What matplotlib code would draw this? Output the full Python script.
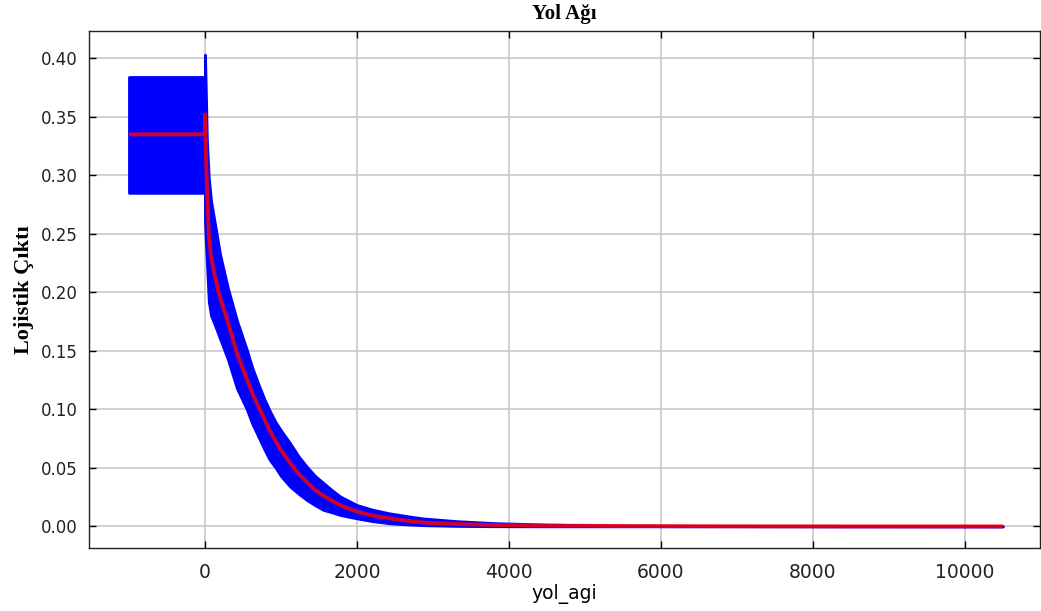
import matplotlib
matplotlib.use("Agg")
import matplotlib.pyplot as plt
import numpy as np

# Data (MaxEnt response curve)
yol_agi = [-1000, -1, 0, 10, 25, 50, 80, 130, 200, 300, 420, 550, 620, 700,
           780, 850, 930, 1000, 1120, 1230, 1340, 1450, 1560, 1670, 1780,
           2000, 2200, 2430, 2650, 2870, 3300, 3800, 4500, 5500, 7000, 8500,
           10500]
mean_out = [0.335, 0.335, 0.352, 0.325, 0.290, 0.250, 0.230, 0.214, 0.195,
            0.175, 0.148, 0.126, 0.114, 0.103, 0.092, 0.082, 0.073, 0.065,
            0.054, 0.045, 0.038, 0.031, 0.026, 0.022, 0.018, 0.0125, 0.0093,
            0.0068, 0.0048, 0.0033, 0.0020, 0.0012, 0.0006, 0.0003, 0.0001,
            0.0, 0.0]
upper_out = [0.384, 0.384, 0.403, 0.376, 0.330, 0.298, 0.278, 0.259, 0.232,
             0.204, 0.176, 0.151, 0.136, 0.122, 0.109, 0.099, 0.089, 0.082,
             0.071, 0.060, 0.051, 0.043, 0.037, 0.031, 0.0255, 0.0182,
             0.0143, 0.0111, 0.0088, 0.0068, 0.0045, 0.0028, 0.0015, 0.0007,
             0.0002, 0.0001, 0.0]
lower_out = [0.285, 0.285, 0.260, 0.245, 0.225, 0.192, 0.180, 0.172, 0.160,
             0.143, 0.118, 0.100, 0.088, 0.077, 0.066, 0.057, 0.050, 0.043,
             0.034, 0.028, 0.0225, 0.018, 0.014, 0.012, 0.0097, 0.0068,
             0.0045, 0.0026, 0.0017, 0.0010, 0.0004, 0.0001, 0.0, 0.0, 0.0,
             0.0, 0.0]
x_ticks = [0, 2000, 4000, 6000, 8000, 10000]
y_ticks = [0.00, 0.05, 0.10, 0.15, 0.20, 0.25, 0.30, 0.35, 0.40]

fig = plt.figure(figsize=(10.41, 6.11), dpi=100)
ax = fig.add_axes([89/1041, 1-548/611, (1040-89)/1041, (548-31)/611])

ax.fill_between(yol_agi, lower_out, upper_out, color="#0000ff",
                edgecolor="#0000ff", linewidth=2.0, zorder=2)
ax.plot(yol_agi, mean_out, color="#ff0000", linewidth=2.8, alpha=0.82,
        zorder=3, solid_capstyle="butt")

ax.set_xlim(-1526, 10987)
ax.set_ylim(-0.0185, 0.4233)
ax.set_xticks(x_ticks)
ax.set_yticks(y_ticks)
ax.set_yticklabels([f"{v:.2f}" for v in y_ticks])
ax.grid(True, color="#c8c8c8", linewidth=1.2, zorder=0)
ax.set_axisbelow(True)
ax.tick_params(direction="in", length=5, width=1, top=True, right=True,
               color="black")
ax.tick_params(axis="x", labelsize=13.5, pad=11)
ax.tick_params(axis="y", labelsize=12, pad=8)
for lab in ax.get_xticklabels() + ax.get_yticklabels():
    lab.set_fontfamily("DejaVu Sans")
    lab.set_color("#222222")
for s in ax.spines.values():
    s.set_linewidth(1.0)
    s.set_color("#222222")

ax.set_title("Yol Ağı", fontfamily="Liberation Serif", fontweight="bold",
             fontsize=15, pad=9)
ax.set_ylabel("Lojistik Çıktı", fontfamily="Liberation Serif",
              fontweight="bold", fontsize=16, labelpad=5)
ax.set_xlabel("yol_agi", fontfamily="DejaVu Sans", fontsize=13.5,
              labelpad=1)

fig.savefig("out.png", dpi=100)
